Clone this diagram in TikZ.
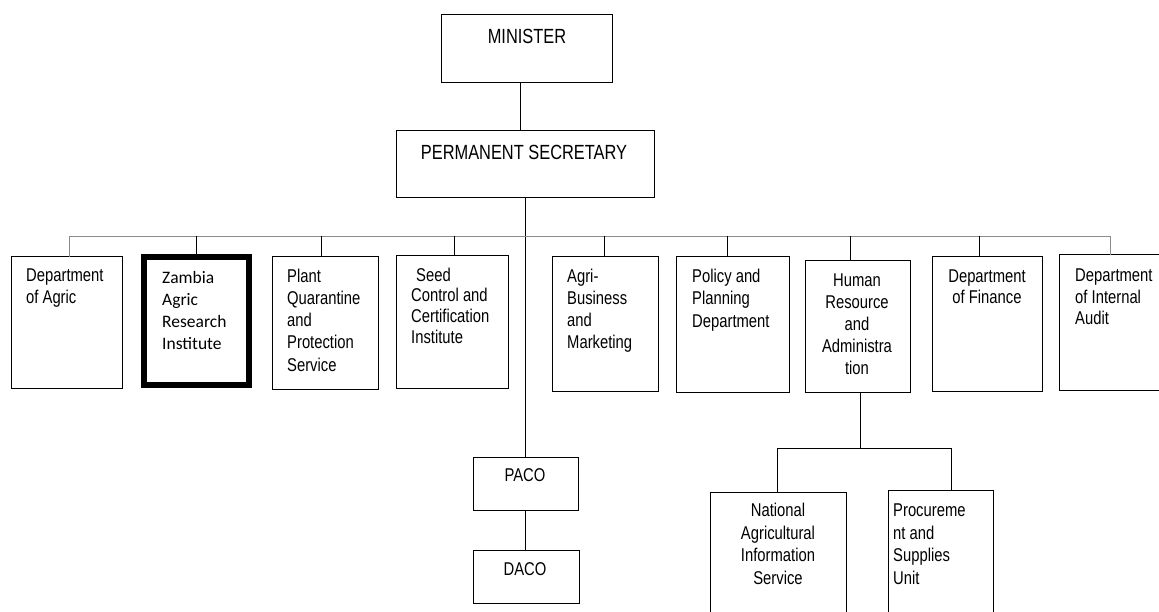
\documentclass[tikz,border=0pt]{standalone}
\usepackage{fontspec}
\setmainfont{Liberation Sans}[FakeStretch=0.8]
\newfontfamily\zarifont{Carlito}
\begin{document}
\begin{tikzpicture}[x=1pt,y=-1pt,
  boxst/.style={draw=black,line width=1pt,rectangle,inner sep=0pt,outer sep=0pt},
  thickbox/.style={boxst,line width=6pt},
  link/.style={draw=black,line width=0.9pt},
  greylink/.style={draw=black!45,line width=0.9pt},
  % multi-line labels are placed by the baseline of their last line
  txt/.style={inner sep=0pt,align=left,anchor=base west,font=\fontsize{18.5}{#1}\selectfont},
  txt/.default=22,
  txtc/.style={inner sep=0pt,align=center,anchor=base,font=\fontsize{18.5}{#1}\selectfont},
  txtc/.default=22,
  head/.style={inner sep=0pt,anchor=base,font=\fontsize{20.5}{24}\selectfont}]
\clip (0,0) rectangle (1159,612);
\fill[white] (0,0) rectangle (1159,612);

% top of the hierarchy
\node[boxst,minimum width=171,minimum height=68] (minister) at (526.5,49) {};
\node[boxst,minimum width=258,minimum height=67] (ps) at (525,164.5) {};
\node[head] (tminister) at (527,43.3) {MINISTER};
\node[head] (tps) at (524,159.3) {PERMANENT SECRETARY};

% departments
\node[boxst,minimum width=111,minimum height=131] (agric) at (66.5,322.5) {};
\node[thickbox,minimum width=105,minimum height=128] (zari) at (196.5,321) {};
\node[boxst,minimum width=106,minimum height=132] (plant) at (325,323) {};
\node[boxst,minimum width=112,minimum height=132] (seed) at (452,322) {};
\node[boxst,minimum width=106,minimum height=134] (agri) at (605,324) {};
\node[boxst,minimum width=113,minimum height=135] (policy) at (732.5,324.5) {};
\node[boxst,minimum width=105,minimum height=131] (hr) at (857.5,326.5) {};
\node[boxst,minimum width=110,minimum height=134] (finance) at (987,324) {};
\node[boxst,minimum width=116,minimum height=135] (audit) at (1117,322.5) {};

\node[txt=21] (tagric) at (26,303) {Department\\of Agric};
\node[txt,font=\zarifont\fontsize{17.5}{22}\selectfont] (tzari) at (162,349) {Zambia\\Agric\\Research\\Institute};
\node[txt=22.3] (tplant) at (287,371.2) {Plant\\Quarantine\\and\\Protection\\Service};
\node[txt=20.7] (tseed) at (411,343.1) {\hspace{5pt}Seed\\Control and\\Certification\\Institute};
\node[txt=22.2] (tagri) at (567,348.6) {Agri-\\Business\\and\\Marketing};
\node[txt=22.5] (tpolicy) at (692,327) {Policy and\\Planning\\Department};
\node[txtc=22.2] (thr) at (857,374.8) {Human\\Resource\\and\\Administra\\tion};
\node[txtc=21] (tfinance) at (987,304) {Department\\of Finance};
\node[txt=21.2] (taudit) at (1075,324.4) {Department\\of Internal\\Audit};

% provincial and district offices
\node[boxst,minimum width=105,minimum height=53] (paco) at (525.5,483.5) {};
\node[boxst,minimum width=106,minimum height=53] (daco) at (526,576.5) {};
\node[txtc] (tpaco) at (525,481.7) {PACO};
\node[txtc] (tdaco) at (525,575) {DACO};

% units under human resource
\node[boxst,minimum width=136,minimum height=148] (nais) at (778,566) {};
\node[boxst,minimum width=105,minimum height=150] (proc) at (940.5,565) {};
\node[txtc=22.5] (tnais) at (778,584.2) {National\\Agricultural\\Information\\Service};
\node[txt=22.5] (tproc) at (893,584.2) {Procureme\\nt and\\Supplies\\Unit};

% connectors
\coordinate (mdrop) at (520,83);
\draw[link] (mdrop) -- (mdrop |- ps.north);
\draw[link] (ps.south) -- (ps.south |- paco.north);
\draw[link] (paco.south) -- (paco.south |- daco.north);

\coordinate (busL) at (69,236);
\coordinate (busR) at (1110,236);
\draw[greylink] (busL) -- (busR);
\coordinate (d2) at (196,236);
\coordinate (d3) at (321,236);
\coordinate (d4) at (454,236);
\coordinate (d5) at (604,236);
\coordinate (d6) at (727,236);
\coordinate (d7) at (850,236);
\coordinate (d8) at (979,236);
\draw[greylink] (busL) -- (busL |- agric.north);
\draw[link] (d2) -- (d2 |- zari.north);
\draw[link] (d3) -- (d3 |- plant.north);
\draw[link] (d4) -- (d4 |- seed.north);
\draw[link] (d5) -- (d5 |- agri.north);
\draw[link] (d6) -- (d6 |- policy.north);
\draw[link] (d7) -- (d7 |- hr.north);
\draw[link] (d8) -- (d8 |- finance.north);
\draw[greylink] (busR) -- (busR |- audit.north);

\coordinate (hrj) at (860,448);
\coordinate (subL) at (777,448);
\coordinate (subR) at (951,448);
\draw[link] (hr.south -| hrj) -- (hrj);
\draw[link] (subL) -- (subR);
\draw[link] (subL) -- (subL |- nais.north);
\draw[link] (subR) -- (subR |- proc.north);
\end{tikzpicture}
\end{document}
